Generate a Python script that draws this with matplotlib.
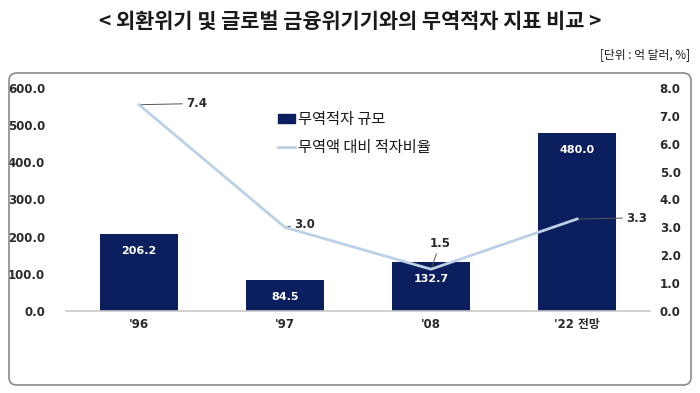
import matplotlib
matplotlib.use("Agg")
import matplotlib.pyplot as plt
from matplotlib.patches import FancyBboxPatch, Patch
from matplotlib.lines import Line2D
import numpy as np

plt.rcParams['font.family'] = ['DejaVu Sans', 'Noto Sans CJK KR']

categories = ["'96", "'97", "'08", "'22 전망"]
deficit = [206.2, 84.5, 132.7, 480.0]
ratio = [7.4, 3.0, 1.5, 3.3]
left_ticks = [0, 100, 200, 300, 400, 500, 600]
right_ticks = [0, 1, 2, 3, 4, 5, 6, 7, 8]
title = "< 외환위기 및 글로벌 금융위기기와의 무역적자 지표 비교 >"
unit = "[단위 : 억 달러, %]"
legend_labels = ["무역적자 규모", "무역액 대비 적자비율"]

BAR = "#0b1f5e"
LINE = "#bcd0e6"
TXT = "#2a2a2a"
KR = ['Noto Sans CJK KR', 'DejaVu Sans']

W, H = 700, 393
fig = plt.figure(figsize=(7, 3.93), dpi=100)

# rounded frame
box = FancyBboxPatch((9 / W, 1 - 385 / H), (691 - 9) / W, (385 - 73) / H,
                     boxstyle="round,pad=0,rounding_size=0.011",
                     transform=fig.transFigure, facecolor='none',
                     edgecolor='#8a8a8a', linewidth=1.2, mutation_aspect=W / H)
fig.patches.append(box)

fig.text(0.5, 1 - 22 / H, title, ha='center', va='center', fontsize=15,
         fontweight='bold', family=KR, color='#1a1a1a')
fig.text(690 / W, 1 - 55 / H, unit, ha='right', va='center', fontsize=8.5,
         family=KR, color='#1a1a1a')

ax = fig.add_axes([66 / W, 1 - 311 / H, (650 - 66) / W, (311 - 88) / H])
x = np.arange(len(categories))
bars = ax.bar(x, deficit, width=0.53, color=BAR, zorder=2)
ax.set_xlim(-0.5, len(categories) - 0.5)
ax.set_ylim(0, 600)
ax.set_yticks(left_ticks)
ax.set_yticklabels([f"{v:.1f}" for v in left_ticks])
ax.set_xticks(x)
ax.set_xticklabels(categories)
for s in ['top', 'right', 'left']:
    ax.spines[s].set_visible(False)
ax.spines['bottom'].set_color('#c8c8c8')
ax.spines['bottom'].set_linewidth(1.2)
ax.tick_params(axis='y', length=0, pad=15, labelsize=8.5, labelcolor=TXT)
ax.tick_params(axis='x', length=0, pad=5, labelsize=8.5, labelcolor=TXT)
for lab in ax.get_yticklabels() + ax.get_xticklabels():
    lab.set_fontweight('bold')

for xi, v in zip(x, deficit):
    ax.annotate(f"{v:.1f}", (xi, v), xytext=(0, -17), textcoords='offset pixels',
                ha='center', va='center', color='white', fontsize=8,
                fontweight='bold', zorder=3)

ax2 = ax.twinx()
ax2.plot(x, ratio, color=LINE, linewidth=2.0, zorder=4)
ax2.set_ylim(0, 8)
ax2.set_yticks(right_ticks)
ax2.set_yticklabels([f"{v:.1f}" for v in right_ticks])
for s in ['top', 'right', 'left', 'bottom']:
    ax2.spines[s].set_visible(False)
ax2.tick_params(axis='y', length=0, pad=7, labelsize=8.5, labelcolor=TXT)
for lab in ax2.get_yticklabels():
    lab.set_fontweight('bold')

offsets = [(58, 1), (20, 3), (9, 26), (60, 1)]
relposes = [(0, 0.5), (0, 0.4), (0.4, 0), (0, 0.5)]
for xi, v, off, rp in zip(x, ratio, offsets, relposes):
    ax2.annotate(f"{v:.1f}", (xi, v), xytext=off, textcoords='offset pixels',
                 ha='center', va='center', color=TXT, fontsize=8.5,
                 fontweight='bold',
                 arrowprops=dict(arrowstyle='-', color='#555555', lw=0.7,
                                 relpos=rp, shrinkA=1, shrinkB=0))

handles = [Patch(facecolor=BAR, edgecolor=BAR),
           Line2D([0], [0], color=LINE, linewidth=2.0)]
leg = fig.legend(handles, legend_labels, loc='upper left',
                 bbox_to_anchor=(278 / W, 1 - 111 / H), frameon=False,
                 handlelength=1.1, handleheight=0.6, handletextpad=0.2,
                 labelspacing=0.75, borderaxespad=0, borderpad=0,
                 prop={'family': KR, 'size': 11})
for t in leg.get_texts():
    t.set_color('#1a1a1a')

fig.savefig("out.png", dpi=100)
